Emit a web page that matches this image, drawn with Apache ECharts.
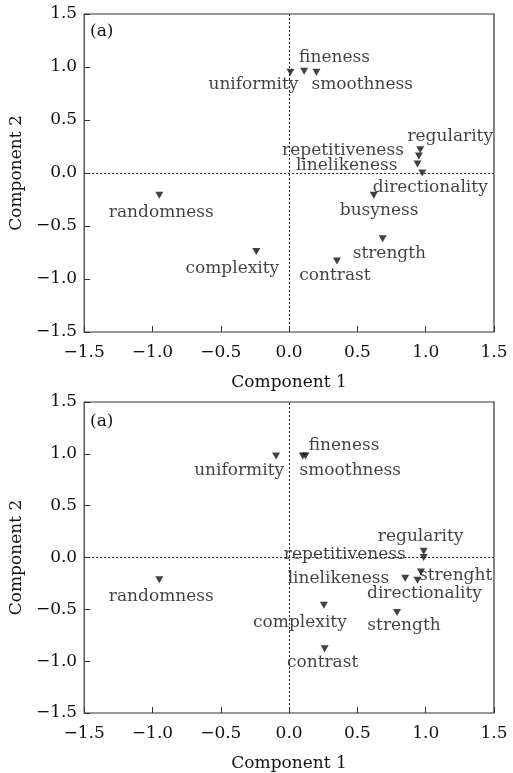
<!DOCTYPE html>
<html>
<head>
<meta charset="utf-8">
<script src="https://cdn.jsdelivr.net/npm/echarts@6/dist/echarts.min.js"></script>
<style>
html,body{margin:0;padding:0;background:#fff;}
#main{width:513px;height:773px;}
</style>
</head>
<body>
<div id="main"></div>
<script>
// 上图数据
var names1 = ["uniformity","fineness","smoothness","regularity","repetitiveness","linelikeness","directionality","busyness","randomness","strength","complexity","contrast"];
var comp1_a = [0.01, 0.11, 0.20, 0.96, 0.95, 0.94, 0.975, 0.62, -0.95, 0.685, -0.24, 0.35];
var comp2_a = [0.95, 0.96, 0.95, 0.22, 0.16, 0.085, 0.0, -0.21, -0.21, -0.62, -0.74, -0.83];
// 下图数据
var names2 = ["uniformity","fineness","smoothness","regularity","repetitiveness","linelikeness","strenght","directionality","randomness","complexity","strength","contrast"];
var comp1_b = [-0.095, 0.10, 0.12, 0.985, 0.985, 0.85, 0.965, 0.94, -0.95, 0.255, 0.79, 0.26];
var comp2_b = [0.98, 0.98, 0.98, 0.06, 0.0, -0.20, -0.14, -0.22, -0.215, -0.46, -0.53, -0.88];

// 标签摆放 [dx, dy, align]
var place1 = [[8,12,"right"],[-5,-14,"left"],[-5,12,"left"],[30,-13,"center"],[-15,-5,"right"],[-20,2,"right"],[8,15,"center"],[-34,15,"left"],[2,17,"center"],[-30,15,"left"],[-24,17,"center"],[-2,15,"center"]];
var place2 = [[8,15,"right"],[6,-10,"left"],[-6,15,"left"],[-3,-15,"center"],[-18,-3,"right"],[-16,0,"right"],[-2,4,"left"],[7,13,"center"],[2,17,"center"],[-24,17,"center"],[7,13,"center"],[-2,14,"center"]];

var FONT = "DejaVu Serif";
var FS = 17;
var TXT = "#111";

function makeData(names, xs, ys, place){
	return names.map(function(n, i){
		return {
			name: n,
			value: [xs[i], ys[i]],
			label: {offset: [place[i][0], place[i][1]], align: place[i][2]}
		};
	});
}
function fmt(v){ return v.toFixed(1).replace("-", "\u2212"); }

function axisX(idx){
	return {
		type: "value", gridIndex: idx, min: -1.5, max: 1.5, interval: 0.5,
		name: "Component 1", nameLocation: "middle", nameGap: 42,
		nameTextStyle: {fontFamily: FONT, fontSize: FS, color: TXT},
		axisLine: {show: false, onZero: false},
		axisTick: {show: true, inside: true, length: 6, lineStyle: {color: "#333"}},
		axisLabel: {fontFamily: FONT, fontSize: FS, color: TXT, margin: 12, formatter: fmt},
		splitLine: {show: false}
	};
}
function axisY(idx){
	return {
		type: "value", gridIndex: idx, min: -1.5, max: 1.5, interval: 0.5,
		name: "Component 2", nameLocation: "middle", nameGap: 57, nameRotate: 90,
		nameTextStyle: {fontFamily: FONT, fontSize: FS, color: TXT},
		axisLine: {show: false, onZero: false},
		axisTick: {show: true, inside: true, length: 6, lineStyle: {color: "#333"}},
		axisLabel: {fontFamily: FONT, fontSize: FS, color: TXT, margin: 7, formatter: fmt},
		splitLine: {show: false}
	};
}
function series(idx, data){
	return {
		type: "scatter", xAxisIndex: idx, yAxisIndex: idx,
		symbol: "triangle", symbolRotate: 180, symbolSize: [8, 7],
		itemStyle: {color: "#111"},
		data: data,
		label: {
			show: true, position: "inside", verticalAlign: "middle",
			formatter: "{b}", fontFamily: FONT, fontSize: FS, color: TXT
		},
		markLine: {
			silent: true, symbol: "none",
			label: {show: false},
			lineStyle: {color: "#222", type: [2, 2], width: 1},
			data: [{xAxis: 0}, {yAxis: 0}]
		},
		z: 3
	};
}

var myChart = echarts.init(document.getElementById("main"));
var option = {
	backgroundColor: "#fff",
	animation: false,
	grid: [
		{left: 81, top: 14, width: 413, height: 318, show: true, borderColor: "#333", borderWidth: 1.2},
		{left: 81, top: 402, width: 413, height: 318, show: true, borderColor: "#333", borderWidth: 1.2}
	],
	xAxis: [axisX(0), axisX(1)],
	yAxis: [axisY(0), axisY(1)],
	graphic: [
		{type: "text", left: 90, top: 23, style: {text: "(a)", font: FS + "px " + FONT, fill: TXT}},
		{type: "text", left: 90, top: 413, style: {text: "(a)", font: FS + "px " + FONT, fill: TXT}}
	],
	series: [
		series(0, makeData(names1, comp1_a, comp2_a, place1)),
		series(1, makeData(names2, comp1_b, comp2_b, place2))
	]
};
myChart.setOption(option);
</script>
</body>
</html>
